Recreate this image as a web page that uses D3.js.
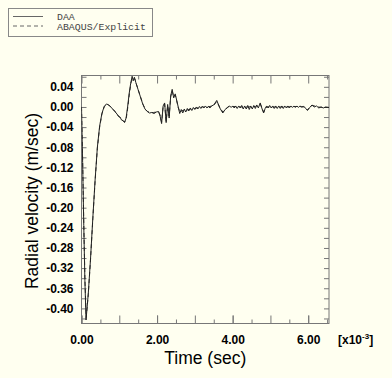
<!DOCTYPE html>
<html>
<head>
<meta charset="utf-8">
<script src="https://cdn.jsdelivr.net/npm/d3@7"></script>
<style>
  html, body { margin: 0; padding: 0; background: #fffff0; }
  svg { display: block; }
  .tick text { font-family: "Liberation Sans", Arial, sans-serif; font-weight: bold; font-size: 12px; fill: #000; }
</style>
</head>
<body>
<svg id="chart" width="392" height="378"></svg>
<script>
// time in units of 1e-3 sec, radial velocity in m/sec
const daaSeries = [
  [0.00, 0.000], [0.03, -0.110], [0.06, -0.235], [0.09, -0.345], [0.12, -0.423],
  [0.18, -0.370], [0.24, -0.300], [0.30, -0.220], [0.36, -0.145], [0.42, -0.080],
  [0.48, -0.038], [0.54, -0.013], [0.60, 0.001], [0.66, 0.006], [0.72, 0.004],
  [0.80, -0.002], [0.88, -0.009], [0.94, -0.014], [0.98, -0.019], [1.02, -0.020],
  [1.06, -0.026], [1.10, -0.027], [1.14, -0.031], [1.18, -0.022], [1.22, 0.000],
  [1.26, 0.026], [1.30, 0.046], [1.34, 0.061], [1.37, 0.052], [1.40, 0.059],
  [1.44, 0.048], [1.50, 0.034], [1.56, 0.020], [1.62, 0.006], [1.68, -0.004],
  [1.74, -0.009], [1.80, -0.012], [1.86, -0.011], [1.92, -0.013], [1.98, -0.010],
  [2.04, -0.009], [2.08, -0.018], [2.12, -0.033], [2.16, 0.002], [2.20, 0.008],
  [2.24, -0.031], [2.28, 0.005], [2.32, -0.022], [2.36, 0.022], [2.40, 0.035],
  [2.44, 0.018], [2.48, 0.026], [2.52, 0.013], [2.56, 0.000], [2.60, -0.013],
  [2.64, -0.005], [2.68, -0.012], [2.72, -0.004], [2.76, -0.010], [2.80, -0.003],
  [2.84, -0.008], [2.88, -0.002], [2.92, -0.007], [2.96, -0.001], [3.00, -0.005],
  [3.04, 0.000], [3.08, -0.004], [3.12, 0.001], [3.16, -0.003], [3.20, 0.001],
  [3.24, -0.002], [3.28, 0.002], [3.32, -0.002], [3.36, 0.001], [3.40, -0.002],
  [3.44, 0.002], [3.50, 0.004], [3.58, 0.013], [3.66, -0.002], [3.74, -0.012],
  [3.80, -0.005], [3.86, -0.001], [3.92, 0.002], [3.96, -0.001], [4.00, 0.002],
  [4.04, -0.002], [4.08, 0.002], [4.12, -0.003], [4.16, 0.002], [4.20, -0.002],
  [4.24, 0.003], [4.28, -0.004], [4.32, 0.002], [4.36, -0.004], [4.40, 0.003],
  [4.44, -0.005], [4.48, 0.002], [4.52, -0.004], [4.56, 0.003], [4.60, -0.003],
  [4.64, 0.004], [4.68, -0.002], [4.73, 0.008], [4.78, -0.004], [4.82, -0.012],
  [4.86, -0.003], [4.90, 0.002], [4.94, -0.002], [4.98, 0.003], [5.02, -0.002],
  [5.06, 0.002], [5.10, -0.003], [5.14, 0.002], [5.18, -0.003], [5.22, 0.002],
  [5.26, -0.003], [5.30, 0.002], [5.34, -0.003], [5.38, 0.002], [5.42, -0.002],
  [5.46, 0.002], [5.50, -0.002], [5.54, 0.002], [5.58, -0.001], [5.62, 0.002],
  [5.66, -0.001], [5.70, 0.002], [5.74, -0.001], [5.78, 0.002], [5.82, 0.000],
  [5.88, 0.001], [5.94, -0.003], [5.98, -0.007], [6.04, -0.001], [6.10, 0.004],
  [6.16, 0.000], [6.22, 0.002], [6.28, -0.002], [6.34, 0.000], [6.40, -0.002],
  [6.46, 0.000], [6.55, -0.001]
];

const abaqusSeries = [
  [0.00, 0.000], [0.03, -0.105], [0.06, -0.230], [0.09, -0.340], [0.125, -0.418],
  [0.18, -0.372], [0.24, -0.302], [0.30, -0.222], [0.36, -0.147], [0.42, -0.082],
  [0.48, -0.040], [0.54, -0.014], [0.60, 0.000], [0.66, 0.005], [0.72, 0.004],
  [0.80, -0.002], [0.88, -0.008], [0.96, -0.016], [1.04, -0.023], [1.10, -0.028],
  [1.15, -0.029], [1.19, -0.020], [1.23, 0.002], [1.27, 0.028], [1.31, 0.048],
  [1.35, 0.058], [1.38, 0.055], [1.41, 0.056], [1.45, 0.046], [1.51, 0.032],
  [1.57, 0.018], [1.63, 0.005], [1.69, -0.005], [1.75, -0.009], [1.82, -0.011],
  [1.90, -0.011], [1.98, -0.010], [2.04, -0.010], [2.08, -0.016], [2.12, -0.030],
  [2.16, 0.000], [2.20, 0.006], [2.24, -0.028], [2.28, 0.003], [2.32, -0.018],
  [2.36, 0.020], [2.40, 0.032], [2.44, 0.020], [2.48, 0.024], [2.52, 0.012],
  [2.56, -0.001], [2.61, -0.011], [2.66, -0.007], [2.72, -0.008], [2.80, -0.006],
  [2.90, -0.004], [3.00, -0.003], [3.10, -0.001], [3.20, 0.000], [3.30, 0.000],
  [3.40, 0.001], [3.50, 0.003], [3.58, 0.011], [3.66, -0.001], [3.74, -0.010],
  [3.82, -0.004], [3.90, 0.001], [4.00, 0.001], [4.20, 0.000], [4.40, 0.000],
  [4.60, 0.001], [4.73, 0.006], [4.82, -0.010], [4.90, 0.000], [5.10, 0.000],
  [5.40, 0.000], [5.70, 0.001], [5.90, 0.000], [5.98, -0.006], [6.06, 0.001],
  [6.12, 0.003], [6.25, 0.000], [6.40, -0.001], [6.55, -0.001]
];

const seriesNames = ["DAA", "ABAQUS/Explicit"];
const xLabelTicks = [0, 2, 4, 6];
const xMajorTicks = [0, 1, 2, 3, 4, 5, 6];
const xMinorTicks = [0.5, 1.5, 2.5, 3.5, 4.5, 5.5, 6.5];
const yLabelTicks = [0.04, 0.00, -0.04, -0.08, -0.12, -0.16, -0.20, -0.24, -0.28, -0.32, -0.36, -0.40];
const yMinorTicks = [0.06, 0.02, -0.02, -0.06, -0.10, -0.14, -0.18, -0.22, -0.26, -0.30, -0.34, -0.38, -0.42];

const plotLeft = 81.5, plotRight = 329, plotTop = 75.5, plotBottom = 323.5;

const x = d3.scaleLinear().domain([0, 6.55]).range([plotLeft, plotRight]);
const y = d3.scaleLinear().domain([-0.43, 0.0625]).range([plotBottom, plotTop]);

const svg = d3.select("#chart");
const fmt = d => d.toFixed(2);

// ticks inside the frame on every side
svg.append("g")
    .attr("transform", "translate(0," + plotBottom + ")")
    .call(d3.axisBottom(x).tickValues(xLabelTicks).tickSizeInner(-8).tickSizeOuter(0).tickPadding(12).tickFormat(fmt));
svg.append("g")
    .attr("transform", "translate(0," + plotBottom + ")")
    .call(d3.axisBottom(x).tickValues(xMajorTicks).tickSizeInner(-8).tickSizeOuter(0).tickFormat(""));
svg.append("g")
    .attr("transform", "translate(0," + plotBottom + ")")
    .call(d3.axisBottom(x).tickValues(xMinorTicks).tickSizeInner(-4).tickSizeOuter(0).tickFormat(""));
svg.append("g")
    .attr("transform", "translate(0," + plotTop + ")")
    .call(d3.axisTop(x).tickValues(xMajorTicks).tickSizeInner(-8).tickSizeOuter(0).tickFormat(""));
svg.append("g")
    .attr("transform", "translate(0," + plotTop + ")")
    .call(d3.axisTop(x).tickValues(xMinorTicks).tickSizeInner(-4).tickSizeOuter(0).tickFormat(""));

svg.append("g")
    .attr("transform", "translate(" + plotLeft + ",0)")
    .call(d3.axisLeft(y).tickValues(yLabelTicks).tickSizeInner(-5).tickSizeOuter(0).tickPadding(8).tickFormat(fmt));
svg.append("g")
    .attr("transform", "translate(" + plotLeft + ",0)")
    .call(d3.axisLeft(y).tickValues(yMinorTicks).tickSizeInner(-5).tickSizeOuter(0).tickFormat(""));
svg.append("g")
    .attr("transform", "translate(" + plotRight + ",0)")
    .call(d3.axisRight(y).tickValues(yLabelTicks.concat(yMinorTicks)).tickSizeInner(-5).tickSizeOuter(0).tickFormat(""));

svg.selectAll(".domain").remove();
svg.selectAll(".tick line").attr("stroke", "#777");

svg.append("rect")
    .attr("x", plotLeft).attr("y", plotTop)
    .attr("width", plotRight - plotLeft).attr("height", plotBottom - plotTop)
    .attr("fill", "none").attr("stroke", "#777");

const line = d3.line()
    .x(d => x(d[0]))
    .y(d => y(d[1]));

svg.append("clipPath").attr("id", "plotclip")
    .append("rect").attr("x", plotLeft).attr("y", plotTop - 2)
    .attr("width", plotRight - plotLeft).attr("height", plotBottom - plotTop + 2);

svg.append("path")
    .attr("clip-path", "url(#plotclip)")
    .attr("fill", "none").attr("stroke", "#333").attr("stroke-width", 1)
    .attr("stroke-dasharray", "4,3")
    .attr("d", line(abaqusSeries));

svg.append("path")
    .attr("clip-path", "url(#plotclip)")
    .attr("fill", "none").attr("stroke", "#222").attr("stroke-width", 1)
    .attr("d", line(daaSeries));

// axis titles
svg.append("text")
    .attr("x", (plotLeft + plotRight) / 2).attr("y", 363.5)
    .attr("text-anchor", "middle")
    .attr("font-family", "Liberation Sans, Arial, sans-serif")
    .attr("font-size", 17.5)
    .text("Time (sec)");

svg.append("text")
    .attr("transform", "translate(38,201) rotate(-90)")
    .attr("text-anchor", "middle")
    .attr("font-family", "Liberation Sans, Arial, sans-serif")
    .attr("font-size", 17.5)
    .text("Radial velocity (m/sec)");

const mult = svg.append("text")
    .attr("x", 338).attr("y", 343.5)
    .attr("font-family", "Liberation Sans, Arial, sans-serif")
    .attr("font-weight", "bold")
    .attr("font-size", 12);
mult.append("tspan").text("[x10");
mult.append("tspan").attr("dy", -5).attr("font-size", 8).text("-3");
mult.append("tspan").attr("dy", 5).text("]");

// legend
const legend = svg.append("g");
legend.append("rect")
    .attr("x", 8.5).attr("y", 8.5).attr("width", 144).attr("height", 28)
    .attr("fill", "none").attr("stroke", "#888");
seriesNames.forEach((name, i) => {
    const ly = 16.5 + i * 9.5;
    legend.append("line")
        .attr("x1", 13).attr("x2", 43).attr("y1", ly).attr("y2", ly)
        .attr("stroke", "#666")
        .attr("stroke-dasharray", i === 0 ? null : "4,3");
    legend.append("text")
        .attr("x", 57).attr("y", ly + 3.5)
        .attr("font-family", "Liberation Mono, Courier New, monospace")
        .attr("font-size", 9.9)
        .attr("fill", "#444")
        .text(name);
});
</script>
</body>
</html>
